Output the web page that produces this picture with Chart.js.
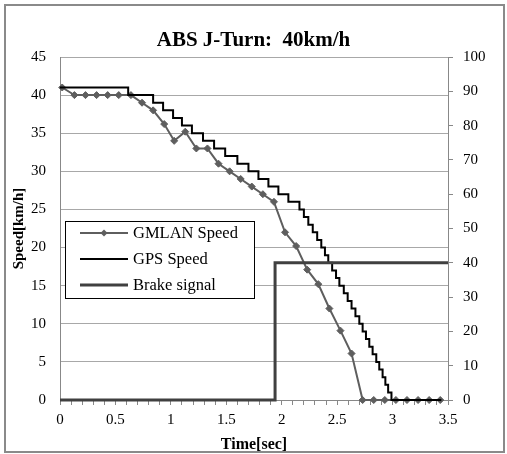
<!DOCTYPE html>
<html>
<head>
<meta charset="utf-8">
<script src="https://cdn.jsdelivr.net/npm/chart.js@4"></script>
<style>
  html, body { margin: 0; padding: 0; background: #fff; }
  #wrap { width: 507px; height: 454px; }
</style>
</head>
<body>
<div id="wrap"><canvas id="c" width="507" height="454"></canvas></div>
<script>
// ---- Data ----
const titleText = 'ABS J-Turn:  40km/h';
const xTitle = 'Time[sec]';
const yTitle = 'Speed[km/h]';
const seriesNames = ['GMLAN Speed', 'GPS Speed', 'Brake signal'];

const gmlanTime = [0.02,0.13,0.23,0.33,0.43,0.53,0.64,0.74,0.84,0.94,1.03,1.13,1.23,1.33,1.43,1.53,1.63,1.73,1.83,1.93,2.03,2.13,2.23,2.33,2.43,2.53,2.63,2.73,2.83,2.93,3.03,3.13,3.23,3.33,3.43];
const gmlanSpeed = [41,40,40,40,40,40,40,39,38,36.2,34,35.2,33,33,31,30,29,28,27,26,22,20.2,17.1,15.2,12,9.1,6.1,0,0,0,0,0,0,0,0];

const gpsTime = [0,0.615,0.84,0.93,1.02,1.10,1.19,1.29,1.39,1.49,1.60,1.70,1.79,1.88,1.97,2.06,2.16,2.20,2.24,2.28,2.32,2.357,2.39,2.42,2.455,2.49,2.52,2.56,2.595,2.63,2.665,2.70,2.73,2.76,2.79,2.82,2.853,2.88,2.91,2.935,2.96,2.99,3.44];
const gpsSpeed = [41,40,39,38,37,36,35,34,33,32,31,30,29,28,27,26,25,24,23,22,21,20,19,18,17,16,15,14,13,12,11,10,9,8,7,6,5,4,3,2,1,0,0];

const brakeTime = [0, 1.94, 3.5];
const brakeSignal = [0, 40, 40];

const xMin = 0, xMax = 3.5, xStep = 0.1;
const yMin = 0, yMax = 45, yStep = 5;
const y2Min = 0, y2Max = 100, y2Step = 10;

// ---- Build ----
const toXY = (xs, ys) => xs.map((x, i) => ({x: x, y: ys[i]}));
const SERIF = '"Liberation Serif", "Times New Roman", serif';
const colGM = '#5e5e5e', colGPS = '#000000', colBrake = '#404040';

const framePlugin = {
  id: 'frame',
  beforeDraw(chart) {
    const ctx = chart.ctx;
    ctx.save();
    ctx.fillStyle = '#fff';
    ctx.fillRect(0, 0, chart.width, chart.height);
    ctx.strokeStyle = '#8a8a8a';
    ctx.lineWidth = 2;
    ctx.strokeRect(5, 5, chart.width - 8, chart.height - 7);
    ctx.restore();
  }
};

const legendPlugin = {
  id: 'boxLegend',
  afterDatasetsDraw(chart) {
    const ctx = chart.ctx;
    const ds = chart.data.datasets;
    const bx = 65.5, by = 221.5, bw = 189, bh = 77;
    ctx.save();
    ctx.fillStyle = '#fff';
    ctx.fillRect(bx, by, bw, bh);
    ctx.strokeStyle = '#000';
    ctx.lineWidth = 1;
    ctx.strokeRect(bx, by, bw, bh);
    ctx.font = '16.5px ' + SERIF;
    ctx.textBaseline = 'middle';
    ctx.textAlign = 'left';
    ds.forEach((d, i) => {
      const y = 233 + i * 26;
      ctx.strokeStyle = d.borderColor;
      ctx.lineWidth = d.borderWidth;
      ctx.beginPath();
      ctx.moveTo(80, y);
      ctx.lineTo(128, y);
      ctx.stroke();
      if (d.pointRadius > 0) {
        ctx.fillStyle = d.pointBackgroundColor;
        const r = d.pointRadius;
        ctx.beginPath();
        ctx.moveTo(104, y - r);
        ctx.lineTo(104 + r, y);
        ctx.lineTo(104, y + r);
        ctx.lineTo(104 - r, y);
        ctx.closePath();
        ctx.fill();
      }
      ctx.fillStyle = '#000';
      ctx.fillText(d.label, 133, y + 1);
    });
    ctx.restore();
  }
};

new Chart(document.getElementById('c'), {
  type: 'line',
  data: {
    datasets: [
      {
        label: seriesNames[0],
        data: toXY(gmlanTime, gmlanSpeed),
        borderColor: colGM,
        backgroundColor: colGM,
        pointBackgroundColor: colGM,
        pointBorderColor: colGM,
        borderWidth: 2,
        pointStyle: 'rectRot',
        pointRadius: 3.5,
        pointBorderWidth: 1,
        tension: 0,
        yAxisID: 'y',
        order: 3,
        clip: false
      },
      {
        label: seriesNames[1],
        data: toXY(gpsTime, gpsSpeed),
        borderColor: colGPS,
        backgroundColor: colGPS,
        borderWidth: 2,
        pointRadius: 0,
        stepped: 'before',
        yAxisID: 'y',
        order: 2,
        clip: false
      },
      {
        label: seriesNames[2],
        data: toXY(brakeTime, brakeSignal),
        borderColor: colBrake,
        backgroundColor: colBrake,
        borderWidth: 3,
        pointRadius: 0,
        stepped: 'before',
        yAxisID: 'y1',
        order: 1,
        clip: false
      }
    ]
  },
  options: {
    responsive: false,
    animation: false,
    events: [],
    layout: { padding: 0 },
    plugins: {
      legend: { display: false },
      tooltip: { enabled: false },
      title: {
        display: true,
        text: titleText,
        color: '#000',
        font: { family: SERIF, size: 21, weight: 'bold' },
        padding: { top: 27.5, bottom: 4.3 }
      }
    },
    scales: {
      x: {
        type: 'linear',
        min: xMin, max: xMax,
        afterFit(s) { s.height = 54; },
        ticks: {
          stepSize: xStep,
          autoSkip: false,
          maxRotation: 0,
          padding: 6,
          color: '#000',
          font: { family: SERIF, size: 15 },
          callback(v) {
            const t = Math.round(v * 10);
            return t % 5 === 0 ? String(t / 10) : '';
          }
        },
        grid: { drawOnChartArea: false, drawTicks: true, tickLength: 5, color: '#888' },
        border: { display: true, color: '#888', width: 1 },
        title: {
          display: true, text: xTitle, color: '#000',
          font: { family: SERIF, size: 16, weight: 'bold' },
          padding: { top: 0, bottom: 0 }
        }
      },
      y: {
        position: 'left',
        min: yMin, max: yMax,
        afterFit(s) { s.width = 60; },
        ticks: { stepSize: yStep, padding: 14, color: '#000', font: { family: SERIF, size: 15 } },
        grid: { color: '#a8a8a8', drawTicks: false, lineWidth: 1 },
        border: { display: true, color: '#888', width: 1 },
        title: {
          display: true, text: yTitle, color: '#000',
          font: { family: SERIF, size: 15, weight: 'bold' },
          padding: { top: 10, bottom: 0 }
        }
      },
      y1: {
        position: 'right',
        min: y2Min, max: y2Max,
        afterFit(s) { s.width = 59; },
        ticks: { stepSize: y2Step, padding: 10, color: '#000', font: { family: SERIF, size: 15 } },
        grid: { drawOnChartArea: false, drawTicks: true, tickLength: 5, color: '#888' },
        border: { display: true, color: '#888', width: 1 }
      }
    }
  },
  plugins: [framePlugin, legendPlugin]
});
</script>
</body>
</html>
